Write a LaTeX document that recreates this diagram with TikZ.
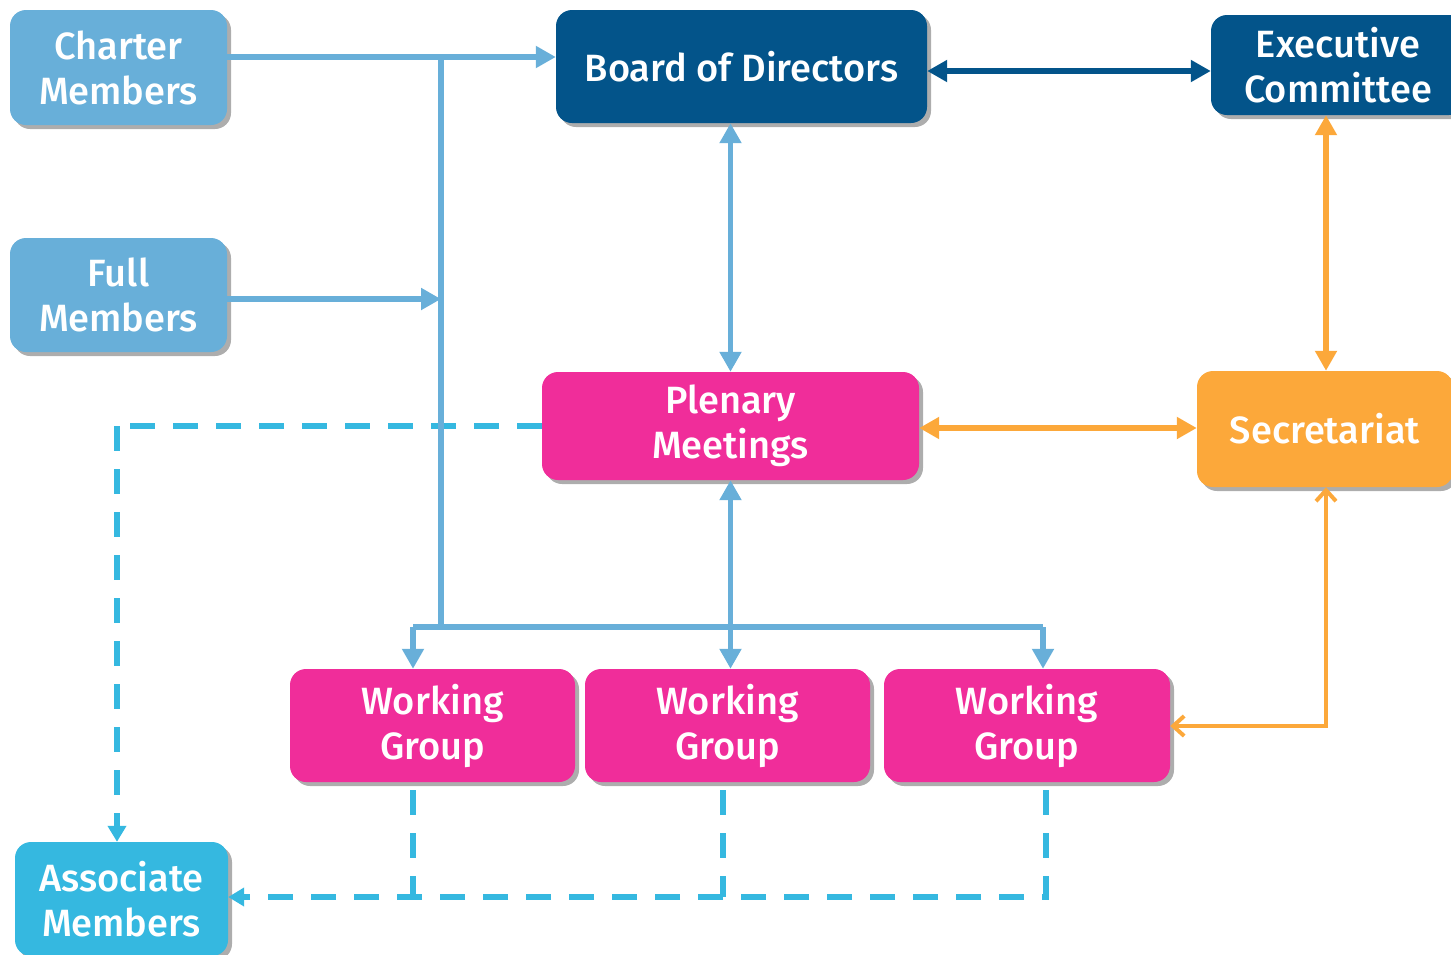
\documentclass[tikz,border=0pt]{standalone}
\usepackage{fontspec}
\setmainfont{Fira Sans Medium}
\usetikzlibrary{arrows.meta,shadows,calc}
\definecolor{lblue}{HTML}{68AFD9}
\definecolor{dblue}{HTML}{03548A}
\definecolor{pinkc}{HTML}{F02D9A}
\definecolor{orangec}{HTML}{FCA83A}
\definecolor{cyanc}{HTML}{35B8E0}
\tikzset{
  box/.style={rounded corners=16pt, text=white, align=center,
    font=\fontsize{38}{45}\selectfont, inner sep=0pt,
    drop shadow={shadow xshift=4pt, shadow yshift=-4pt, fill=black!32, opacity=1}},
  lbox/.style={box, fill=lblue},
  dbox/.style={box, fill=dblue},
  pbox/.style={box, fill=pinkc},
  obox/.style={box, fill=orangec},
  cbox/.style={box, fill=cyanc},
  conn/.style={line width=5.5pt},
  tip/.style={-{Triangle[length=20pt,width=21pt]}},
  dtip/.style={{Triangle[length=20pt,width=21pt]}-{Triangle[length=20pt,width=21pt]}},
  dashline/.style={cyanc, line width=6pt, dash pattern=on 25pt off 18pt},
  thinor/.style={orangec, line width=4pt, {Straight Barb[length=11pt,width=20pt,line width=4pt]}-{Straight Barb[length=11pt,width=20pt,line width=4pt]}}
}
\begin{document}
\begin{tikzpicture}[x=1pt,y=-1pt]
\useasboundingbox (0,0) rectangle (1451,954);
% nodes
\node[lbox, minimum width=217pt, minimum height=115pt] (charter) at (118.5,67.5) {Charter\\Members};
\node[lbox, minimum width=217pt, minimum height=114pt] (full) at (118.5,295) {Full\\Members};
\node[dbox, minimum width=371pt, minimum height=113pt] (board) at (741.5,66.5) {Board of Directors};
\node[dbox, minimum width=254pt, minimum height=100pt] (exec) at (1338,65) {Executive\\Committee};
\node[pbox, minimum width=377pt, minimum height=108pt] (plen) at (730.5,426) {Plenary\\Meetings};
\node[obox, minimum width=256pt, minimum height=116pt] (secr) at (1325,429) {Secretariat};
\node[pbox, minimum width=285pt, minimum height=113pt] (wg1) at (432.5,725.5) {Working\\Group};
\node[pbox, minimum width=285pt, minimum height=113pt] (wg2) at (727.5,725.5) {Working\\Group};
\node[pbox, minimum width=286pt, minimum height=113pt] (wg3) at (1027,725.5) {Working\\Group};
\node[cbox, minimum width=213pt, minimum height=114pt] (assoc) at (121.5,899) {Associate\\Members};
% coordinates
\coordinate (tt) at (441,57);
\coordinate (tb) at (441,627);
\coordinate (h1) at (413,627);
\coordinate (h3) at (1043,627);
\coordinate (da) at (117,426);
\coordinate (d1) at (413,790);
\coordinate (d2) at (723,790);
\coordinate (d3) at (1046,790);
\coordinate (e1) at (413,897);
\coordinate (e2) at (723,897);
\coordinate (e3) at (1046,897);
\coordinate (oc) at (1326,726);
% dashed connectors (under solid ones)
\draw[dashline] (plen.west) -- (da);
\draw[dashline, -{Triangle[length=16pt,width=18pt]}] (da) -- (da |- assoc.north);
\draw[dashline] (d1) -- (e1);
\draw[dashline] (d2) -- (e2);
\draw[dashline, -{Triangle[length=16pt,width=18pt]}] (d3) -- (e3) -- (assoc.east |- e3);
% light blue connectors
\draw[conn, lblue, tip] (charter.east |- tt) -- (board.west |- tt);
\draw[conn, lblue] (tt) -- (tb);
\draw[conn, lblue, tip] (full.east |- 0,299) -- (tt |- 0,299);
\draw[conn, lblue] (h1) -- (h3);
\draw[conn, lblue, tip] (h1) -- (h1 |- wg1.north);
\draw[conn, lblue, tip] (h3) -- (h3 |- wg3.north);
\draw[conn, lblue, dtip] (board.south -| plen.north) -- (plen.north);
\draw[conn, lblue, dtip] (plen.south) -- (plen.south |- wg2.north);
% dark blue
\draw[conn, dblue, dtip] (board.east |- 0,71) -- (exec.west |- 0,71);
% orange
\draw[conn, orangec, dtip] (exec.south -| 1326,0) -- (secr.north -| 1326,0);
\draw[conn, orangec, dtip] (plen.east |- 0,428) -- (secr.west |- 0,428);
\draw[thinor] (secr.south -| oc) -- (oc) -- (wg3.east |- oc);
\end{tikzpicture}
\end{document}
